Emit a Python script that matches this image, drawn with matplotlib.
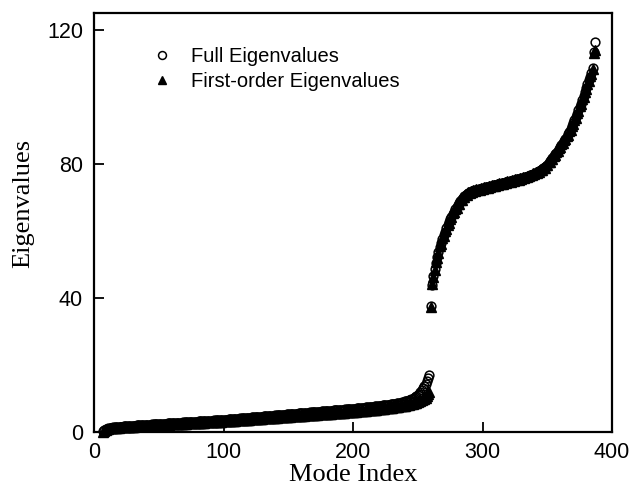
import matplotlib
matplotlib.use("Agg")
import matplotlib.pyplot as plt

mode_index = list(range(7, 388))

full_eigenvalues = [
    0.2, 0.5, 0.8, 1.0, 1.1, 1.2, 1.3, 1.3, 1.4, 1.4,
    1.4, 1.5, 1.5, 1.6, 1.6, 1.6, 1.7, 1.7, 1.7, 1.8,
    1.8, 1.8, 1.8, 1.9, 1.9, 1.9, 2.0, 2.0, 2.0, 2.0,
    2.1, 2.1, 2.1, 2.1, 2.2, 2.2, 2.2, 2.2, 2.3, 2.3,
    2.3, 2.3, 2.4, 2.4, 2.4, 2.4, 2.5, 2.5, 2.5, 2.5,
    2.6, 2.6, 2.6, 2.6, 2.7, 2.7, 2.7, 2.7, 2.8, 2.8,
    2.8, 2.8, 2.9, 2.9, 2.9, 2.9, 3.0, 3.0, 3.0, 3.0,
    3.1, 3.1, 3.1, 3.1, 3.2, 3.2, 3.2, 3.2, 3.3, 3.3,
    3.3, 3.3, 3.4, 3.4, 3.4, 3.4, 3.5, 3.5, 3.5, 3.5,
    3.6, 3.6, 3.6, 3.6, 3.7, 3.7, 3.7, 3.8, 3.8, 3.8,
    3.9, 3.9, 3.9, 4.0, 4.0, 4.0, 4.1, 4.1, 4.1, 4.2,
    4.2, 4.2, 4.3, 4.3, 4.3, 4.4, 4.4, 4.4, 4.5, 4.5,
    4.5, 4.6, 4.6, 4.6, 4.7, 4.7, 4.7, 4.8, 4.8, 4.8,
    4.9, 4.9, 4.9, 5.0, 5.0, 5.0, 5.1, 5.1, 5.1, 5.2,
    5.2, 5.2, 5.3, 5.3, 5.3, 5.4, 5.4, 5.4, 5.5, 5.5,
    5.5, 5.6, 5.6, 5.6, 5.7, 5.7, 5.7, 5.8, 5.8, 5.8,
    5.9, 5.9, 5.9, 6.0, 6.0, 6.0, 6.1, 6.1, 6.1, 6.2,
    6.2, 6.2, 6.3, 6.3, 6.3, 6.4, 6.4, 6.4, 6.5, 6.5,
    6.5, 6.6, 6.6, 6.6, 6.7, 6.7, 6.7, 6.8, 6.8, 6.8,
    6.9, 6.9, 6.9, 7.0, 7.0, 7.0, 7.1, 7.1, 7.2, 7.2,
    7.2, 7.3, 7.3, 7.4, 7.4, 7.4, 7.5, 7.5, 7.6, 7.6,
    7.7, 7.7, 7.8, 7.8, 7.9, 7.9, 8.0, 8.0, 8.1, 8.1,
    8.2, 8.2, 8.3, 8.3, 8.4, 8.5, 8.5, 8.6, 8.7, 8.7,
    8.8, 8.9, 9.0, 9.1, 9.2, 9.3, 9.4, 9.5, 9.7, 9.9,
    10.1, 10.3, 10.6, 10.9, 11.3, 11.8, 12.4, 13.0, 13.7, 14.4,
    15.2, 16.1, 17.0,
    37.6,
    44.0, 46.5, 48.7, 50.5, 52.2, 53.8, 55.2, 56.5, 57.7, 58.8,
    59.8, 60.8, 61.7, 62.6, 63.4, 64.2, 65.0, 65.7, 66.4, 67.1,
    67.7, 68.3, 68.9, 69.4, 69.9, 70.3, 70.7, 71.0, 71.3, 71.5,
    71.7, 71.9, 72.0, 72.1, 72.2, 72.3, 72.4, 72.5, 72.6, 72.7,
    72.8, 72.9, 73.0, 73.1, 73.2, 73.3, 73.4, 73.5, 73.6, 73.7,
    73.8, 73.9, 74.0, 74.1, 74.2, 74.3, 74.4, 74.5, 74.6, 74.7,
    74.8, 74.9, 75.0, 75.1, 75.2, 75.3, 75.4, 75.5, 75.6, 75.7,
    75.8, 75.9, 76.0, 76.2, 76.3, 76.5, 76.6, 76.8, 77.0, 77.1,
    77.3, 77.5, 77.7, 77.9, 78.1, 78.4, 78.7, 79.0, 79.4, 79.8,
    80.2, 80.7, 81.2, 81.7, 82.2, 82.8, 83.3, 83.9, 84.5, 85.1,
    85.7, 86.3, 86.9, 87.5, 88.1, 88.8, 89.5, 90.3, 91.2, 92.1,
    93.0, 94.0, 95.0, 96.0, 97.0, 98.0, 99.1, 100.2, 101.3, 102.5,
    103.7, 104.9, 106.0, 107.1, 108.5, 113.5, 116.3,
]

first_order_eigenvalues = [
    0.1, 0.4, 0.7, 0.9, 1.0, 1.1, 1.1, 1.2, 1.2, 1.2,
    1.3, 1.3, 1.3, 1.4, 1.4, 1.4, 1.4, 1.5, 1.5, 1.5,
    1.5, 1.6, 1.6, 1.6, 1.6, 1.7, 1.7, 1.7, 1.7, 1.8,
    1.8, 1.8, 1.8, 1.8, 1.9, 1.9, 1.9, 1.9, 2.0, 2.0,
    2.0, 2.0, 2.0, 2.1, 2.1, 2.1, 2.1, 2.2, 2.2, 2.2,
    2.2, 2.2, 2.3, 2.3, 2.3, 2.3, 2.4, 2.4, 2.4, 2.4,
    2.4, 2.5, 2.5, 2.5, 2.5, 2.6, 2.6, 2.6, 2.6, 2.6,
    2.7, 2.7, 2.7, 2.7, 2.8, 2.8, 2.8, 2.8, 2.8, 2.9,
    2.9, 2.9, 2.9, 3.0, 3.0, 3.0, 3.0, 3.0, 3.1, 3.1,
    3.1, 3.1, 3.2, 3.2, 3.2, 3.2, 3.3, 3.3, 3.3, 3.3,
    3.4, 3.4, 3.4, 3.5, 3.5, 3.5, 3.5, 3.6, 3.6, 3.6,
    3.7, 3.7, 3.7, 3.7, 3.8, 3.8, 3.8, 3.9, 3.9, 3.9,
    3.9, 4.0, 4.0, 4.0, 4.1, 4.1, 4.1, 4.1, 4.2, 4.2,
    4.2, 4.3, 4.3, 4.3, 4.3, 4.4, 4.4, 4.4, 4.5, 4.5,
    4.5, 4.5, 4.6, 4.6, 4.6, 4.7, 4.7, 4.7, 4.7, 4.8,
    4.8, 4.8, 4.9, 4.9, 4.9, 4.9, 5.0, 5.0, 5.0, 5.1,
    5.1, 5.1, 5.1, 5.2, 5.2, 5.2, 5.3, 5.3, 5.3, 5.3,
    5.4, 5.4, 5.4, 5.5, 5.5, 5.5, 5.5, 5.6, 5.6, 5.6,
    5.7, 5.7, 5.7, 5.8, 5.8, 5.8, 5.8, 5.9, 5.9, 5.9,
    6.0, 6.0, 6.0, 6.1, 6.1, 6.1, 6.2, 6.2, 6.2, 6.3,
    6.3, 6.3, 6.4, 6.4, 6.5, 6.5, 6.5, 6.6, 6.6, 6.7,
    6.7, 6.7, 6.8, 6.8, 6.9, 6.9, 7.0, 7.0, 7.1, 7.1,
    7.2, 7.2, 7.3, 7.3, 7.4, 7.4, 7.5, 7.5, 7.6, 7.7,
    7.7, 7.8, 7.9, 7.9, 8.0, 8.1, 8.2, 8.3, 8.4, 8.5,
    8.6, 8.7, 8.8, 9.0, 9.1, 9.3, 9.5, 9.7, 9.9, 10.2,
    10.6, 11.2, 12.0,
    37.4,
    44.3, 46.2, 48.4, 50.8, 52.0, 53.5, 55.4, 56.2, 57.9, 58.6,
    60.0, 60.6, 61.9, 62.4, 63.6, 64.0, 65.2, 65.5, 66.6, 66.9,
    67.9, 68.1, 69.1, 69.2, 70.1, 70.1, 70.9, 70.8, 71.5, 71.3,
    71.9, 71.7, 72.2, 71.9, 72.4, 72.1, 72.6, 72.3, 72.8, 72.5,
    73.0, 72.7, 73.2, 72.9, 73.4, 73.1, 73.6, 73.3, 73.8, 73.5,
    74.0, 73.7, 74.2, 73.9, 74.4, 74.1, 74.6, 74.3, 74.8, 74.5,
    75.0, 74.7, 75.2, 74.9, 75.4, 75.1, 75.6, 75.3, 75.8, 75.5,
    76.0, 75.7, 76.2, 76.0, 76.5, 76.3, 76.8, 76.6, 77.2, 76.9,
    77.5, 77.3, 77.9, 77.7, 78.3, 78.2, 78.9, 78.8, 79.6, 79.6,
    80.4, 80.5, 81.4, 81.5, 82.4, 82.6, 83.5, 83.7, 84.7, 84.9,
    85.9, 86.1, 87.1, 87.3, 88.3, 88.6, 89.7, 90.1, 91.4, 91.9,
    93.2, 93.8, 95.2, 95.8, 97.2, 97.8, 99.3, 100.0, 101.5, 102.3,
    103.9, 104.7, 106.2, 106.9, 108.2, 113.2, 114.0,
]

x_ticks = [0, 100, 200, 300, 400]
y_ticks = [0, 40, 80, 120]
x_label = "Mode Index"
y_label = "Eigenvalues"
series_labels = ["Full Eigenvalues", "First-order Eigenvalues"]

sans = ["Liberation Sans", "DejaVu Sans"]
serif = ["Liberation Serif", "DejaVu Serif"]

fig = plt.figure(figsize=(6.32, 4.87), dpi=100)
ax = fig.add_axes([94 / 632, 1 - 432 / 487, (612 - 94) / 632, (432 - 13) / 487])

ax.plot(mode_index, full_eigenvalues, linestyle="none", marker="o",
        markersize=6.3, markerfacecolor="none", markeredgecolor="black",
        markeredgewidth=1.1, label=series_labels[0], clip_on=False, zorder=3)
ax.plot(mode_index, first_order_eigenvalues, linestyle="none", marker="^",
        markersize=7.0, color="black", label=series_labels[1],
        clip_on=False, zorder=4)

ax.set_xlim(0, 400)
ax.set_ylim(0, 125)
ax.set_xticks(x_ticks)
ax.set_yticks(y_ticks)
ax.tick_params(axis="both", direction="in", length=7, width=1.3,
               top=False, right=False, labelsize=15.5)
ax.tick_params(axis="x", pad=7)
ax.tick_params(axis="y", pad=8)
for lab in ax.get_xticklabels() + ax.get_yticklabels():
    lab.set_fontfamily(sans)
for s in ax.spines.values():
    s.set_linewidth(1.6)

ax.set_xlabel(x_label, fontsize=19, family=serif)
ax.set_ylabel(y_label, fontsize=19, family=serif)
ax.yaxis.set_label_coords(-0.116, 0.545)

leg = ax.legend(loc="upper left", bbox_to_anchor=(0.112, 0.918), frameon=False,
                prop={"family": sans, "size": 14.5}, handlelength=1.0,
                handletextpad=0.95, labelspacing=0.3, borderpad=0,
                borderaxespad=0, numpoints=1, markerscale=0.9)

# place the x label just below the tick labels (as tight as the original)
fig.canvas.draw()
renderer = fig.canvas.get_renderer()
tick_bottom = min(t.get_window_extent(renderer).y0 for t in ax.get_xticklabels()
                  if t.get_text())
ax_box = ax.get_window_extent(renderer)
ax.xaxis.set_label_coords(0.5, (tick_bottom - 1 - ax_box.y0) / ax_box.height)

fig.savefig("out.png", dpi=100)
